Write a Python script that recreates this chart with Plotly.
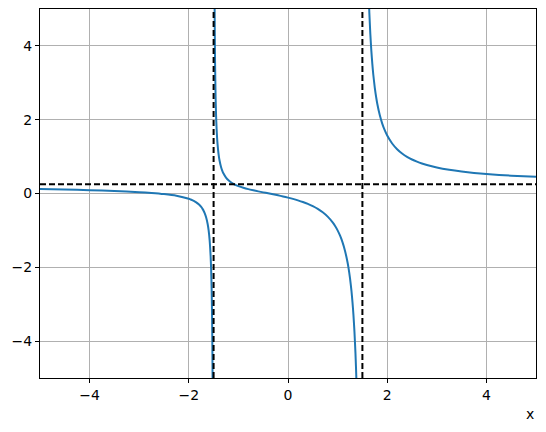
import plotly.graph_objects as go

# Curve branches (x, y)
left_x = [-5.0, -4.5, -4.0, -3.5, -3.0, -2.75, -2.5, -2.25, -2.0, -1.95, -1.9, -1.85, -1.8, -1.75,
          -1.72, -1.7, -1.68, -1.65, -1.62, -1.6, -1.58, -1.56, -1.55, -1.54, -1.53, -1.525,
          -1.52, -1.51]
left_y = [0.121, 0.108, 0.091, 0.069, 0.037, 0.015, -0.016, -0.061, -0.143, -0.169, -0.200,
          -0.240, -0.293, -0.365, -0.424, -0.473, -0.532, -0.650, -0.825, -1.0, -1.262, -1.697,
          -2.045, -2.567, -3.435, -4.130, -5.172, -10.38]

mid_x = [-1.49, -1.48, -1.475, -1.47, -1.46, -1.45, -1.44, -1.43, -1.42, -1.4, -1.38, -1.35,
         -1.33, -1.3, -1.25, -1.2, -1.15, -1.1, -1.05, -1.0, -0.9, -0.8, -0.7, -0.6, -0.5, -0.4,
         -0.3, -0.2, -0.1, 0.0, 0.1, 0.2, 0.3, 0.4, 0.5, 0.6, 0.7, 0.8, 0.9, 0.95, 1.0, 1.05,
         1.1, 1.15, 1.2, 1.22, 1.25, 1.28, 1.3, 1.32, 1.34, 1.36, 1.37, 1.38, 1.4]
mid_y = [10.45, 5.242, 4.200, 3.505, 2.636, 2.114, 1.766, 1.518, 1.331, 1.069, 0.894, 0.718,
         0.635, 0.540, 0.432, 0.358, 0.304, 0.262, 0.228, 0.200, 0.155, 0.118, 0.087, 0.058,
         0.031, 0.005, -0.022, -0.050, -0.079, -0.111, -0.146, -0.186, -0.230, -0.282, -0.344,
         -0.418, -0.510, -0.627, -0.783, -0.882, -1.0, -1.144, -1.325, -1.556, -1.864, -2.018,
         -2.296, -2.648, -2.942, -3.301, -3.750, -4.327, -4.682, -5.096, -6.172]

right_x = [1.58, 1.6, 1.62, 1.64, 1.66, 1.68, 1.7, 1.72, 1.75, 1.78, 1.8, 1.85, 1.9, 1.95, 2.0,
           2.1, 2.2, 2.3, 2.4, 2.5, 2.6, 2.7, 2.8, 3.0, 3.25, 3.5, 3.75, 4.0, 4.5, 5.0]
right_y = [8.357, 6.742, 5.665, 4.896, 4.319, 3.871, 3.512, 3.218, 2.865, 2.588, 2.434, 2.126,
           1.895, 1.715, 1.571, 1.355, 1.201, 1.085, 0.994, 0.922, 0.863, 0.813, 0.771, 0.704,
           0.641, 0.594, 0.557, 0.527, 0.483, 0.451]

# Asymptotes
vert_asym = [-1.5, 1.5]
horiz_asym = 0.25
x_range = [-5, 5]
y_range = [-5, 5]
ticks_x = [-4, -2, 0, 2, 4]
ticks_y = [-4, -2, 0, 2, 4]

blue = "#1f77b4"
fig = go.Figure()
for bx, by in [(left_x, left_y), (mid_x, mid_y), (right_x, right_y)]:
    fig.add_trace(go.Scatter(x=bx, y=by, mode="lines",
                             line=dict(color=blue, width=2, shape="spline", smoothing=0.6),
                             showlegend=False, hoverinfo="skip"))
for xv in vert_asym:
    fig.add_trace(go.Scatter(x=[xv, xv], y=y_range, mode="lines",
                             line=dict(color="black", width=2, dash="6px,3px"), showlegend=False))
fig.add_trace(go.Scatter(x=x_range, y=[horiz_asym, horiz_asym], mode="lines",
                         line=dict(color="black", width=2, dash="6px,3px"), showlegend=False))

axis_common = dict(showgrid=True, gridcolor="#b0b0b0", gridwidth=1, zeroline=False,
                   showline=True, linecolor="black", linewidth=1, mirror=True,
                   ticks="outside", ticklen=4, tickcolor="black", tickwidth=1, automargin=False,
                   tickfont=dict(family="DejaVu Sans", size=14, color="black"))
fig.update_xaxes(range=x_range, tickvals=ticks_x, **axis_common)
fig.update_yaxes(range=y_range, tickvals=ticks_y, **axis_common)

fig.update_layout(
    width=546, height=432,
    margin=dict(l=40, r=10, t=9, b=54, autoexpand=False),
    plot_bgcolor="white", paper_bgcolor="white",
    font=dict(family="DejaVu Sans", size=14, color="black"),
    annotations=[dict(text="x", xref="paper", yref="paper", x=1, y=-0.098,
                      xanchor="right", yanchor="middle", showarrow=False,
                      font=dict(family="DejaVu Sans", size=14, color="black"))],
)
fig.write_html("out.html", config={"displayModeBar": False},
               post_script="document.body.style.margin='0';")
